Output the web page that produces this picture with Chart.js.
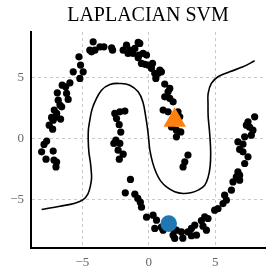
<!DOCTYPE html>
<html><head><meta charset="utf-8">
<script src="https://cdn.jsdelivr.net/npm/chart.js@4/dist/chart.umd.min.js"></script>
<style>html,body{margin:0;padding:0;background:#fff}#w{width:274px;height:274px}</style>
</head><body><div id="w"><canvas id="c"></canvas></div>
<script>
const titleText = "LAPLACIAN SVM";
const xTicks = [-5, 0, 5];
const yTicks = [-5, 0, 5];
const upperMoon = [[-8.07,-1.10],[-7.89,-0.49],[-7.69,-0.22],[-7.74,-1.70],[-7.20,-1.04],[-7.14,-1.78],[-6.94,-1.94],[-6.99,-2.34],[-7.50,1.09],[-7.24,0.76],[-7.20,1.50],[-6.94,1.78],[-6.64,1.59],[-7.32,1.73],[-7.12,2.33],[-6.94,2.06],[-6.56,2.60],[-6.69,2.74],[-6.82,3.15],[-6.89,3.75],[-6.19,3.70],[-6.07,3.21],[-6.52,4.38],[-6.26,4.24],[-5.94,4.57],[-5.69,5.48],[-4.94,5.48],[-5.19,4.93],[-5.14,6.03],[-5.26,6.71],[-4.31,7.12],[-4.19,7.94],[-4.44,7.26],[-4.06,7.26],[-3.68,7.53],[-3.38,7.53],[-2.80,7.45],[-2.73,7.26],[-1.68,7.67],[-1.93,7.26],[-1.43,7.26],[-0.80,7.89],[-1.05,7.40],[-1.56,6.99],[-1.18,6.99],[-0.73,6.85],[-0.43,6.99],[-0.17,6.85],[-0.80,6.63],[-0.55,6.17],[-0.30,6.09],[-0.05,6.03],[0.28,6.17],[0.20,5.76],[0.83,5.62],[0.45,5.35],[0.70,5.35],[0.95,5.48],[0.53,4.93],[1.20,4.47],[1.58,4.11],[1.45,3.83],[1.20,3.42],[1.58,3.29],[1.83,3.01],[1.08,2.33],[1.45,2.19],[2.20,2.19],[2.33,1.78],[1.71,0.95],[2.08,0.68],[2.41,0.54],[2.08,0.13],[-0.68,7.81],[2.95,-1.37],[2.71,-1.92],[2.58,-2.34]];
const lowerMoon = [[-2.56,2.06],[-2.18,2.19],[-1.80,2.25],[-2.43,1.64],[-2.23,1.13],[-2.11,0.52],[-2.48,-0.14],[-2.63,-0.41],[-2.18,-0.41],[-2.31,-0.96],[-1.93,-1.29],[-2.22,-1.70],[-1.38,-3.37],[-1.77,-4.47],[-1.05,-4.58],[-0.83,-4.93],[-0.64,-5.24],[-0.55,-5.65],[-0.17,-6.47],[0.32,-6.31],[0.58,-6.72],[0.45,-7.40],[0.95,-7.29],[1.08,-7.54],[1.83,-7.40],[2.08,-7.54],[2.46,-7.68],[1.83,-7.95],[1.95,-8.22],[2.56,-8.20],[2.95,-7.68],[3.21,-7.40],[3.46,-7.13],[3.21,-7.99],[3.59,-7.95],[3.96,-6.76],[4.08,-7.21],[4.34,-7.54],[4.46,-6.58],[4.96,-5.90],[5.21,-5.77],[5.59,-5.35],[5.84,-5.07],[5.71,-4.66],[6.22,-4.25],[6.34,-3.57],[6.59,-3.16],[6.84,-3.43],[6.71,-2.75],[6.84,-3.02],[7.22,-2.06],[7.47,-1.51],[6.84,-0.90],[7.09,-1.10],[6.71,-0.28],[7.09,-0.47],[7.22,0.13],[7.72,0.27],[7.84,0.68],[7.35,1.09],[7.47,1.37],[7.97,1.78],[7.59,0.93],[4.21,-6.45]];
const boundary = [[-8.07,-5.84],[-6.69,-5.57],[-5.56,-5.32],[-4.94,-5.03],[-4.59,-4.58],[-4.40,-3.92],[-4.31,-3.26],[-4.34,-2.60],[-4.40,-1.95],[-4.51,-1.13],[-4.56,-0.14],[-4.55,0.68],[-4.44,1.50],[-4.29,2.33],[-4.06,3.01],[-3.56,3.97],[-2.93,4.44],[-2.18,4.52],[-1.43,4.38],[-0.80,3.83],[-0.45,3.01],[-0.23,1.78],[-0.08,0.68],[0.00,-0.14],[0.08,-0.96],[0.30,-2.03],[0.58,-2.88],[0.90,-3.51],[1.33,-3.98],[1.95,-4.38],[2.58,-4.52],[3.16,-4.46],[3.71,-4.25],[4.21,-3.84],[4.47,-3.18],[4.62,-2.28],[4.66,-1.21],[4.62,-0.14],[4.55,0.85],[4.47,1.83],[4.46,2.82],[4.47,3.70],[4.71,4.52],[5.21,5.07],[6.09,5.48],[7.09,5.89],[7.97,6.38]];
const labeledPositive = [[1.95, 1.5]];
const labeledNegative = [[1.5, -7.0]];

const toXY = a => a.map(p => ({x: p[0], y: p[1]}));
const fmt = v => v < 0 ? '\u2212' + Math.abs(v) : String(v);
const tickFont = {family: 'Liberation Serif', size: 13};

new Chart(document.getElementById('c'), {
  type: 'scatter',
  data: {datasets: [
    {data: toXY(labeledPositive), pointStyle: 'triangle', pointRadius: 13, backgroundColor: '#ff7f0e', borderWidth: 0, order: 0},
    {data: toXY(labeledNegative), pointStyle: 'circle', pointRadius: 8.3, backgroundColor: '#1f77b4', borderWidth: 0, order: 1},
    {data: toXY(upperMoon.concat(lowerMoon)), pointRadius: 3.6, backgroundColor: '#000', borderWidth: 0, order: 2},
    {data: toXY(boundary), showLine: true, pointRadius: 0, borderColor: '#000', borderWidth: 1.6, tension: 0.4, fill: false, order: 3}
  ]},
  options: {
    responsive: true, maintainAspectRatio: false, animation: false,
    layout: {autoPadding: false, padding: {left: 0, right: 9, top: 0, bottom: 0}},
    plugins: {
      legend: {display: false}, tooltip: {enabled: false},
      title: {display: true, text: titleText, fullSize: false, color: '#000',
        font: {family: 'Liberation Serif', size: 20, weight: 'normal'}, padding: {top: 4, bottom: 4}}
    },
    scales: {
      x: {type: 'linear', min: -8.87, max: 8.75,
        afterBuildTicks: s => { s.ticks = xTicks.map(v => ({value: v})); },
        afterFit: s => { s.height = 25.7; },
        ticks: {callback: fmt, color: '#666', font: tickFont, padding: 6, maxRotation: 0},
        grid: {color: '#c8c8c8', lineWidth: 1, drawTicks: false},
        border: {display: true, color: '#000', width: 2, dash: [3, 3]}
      },
      y: {type: 'linear', min: -9.03, max: 8.75,
        afterBuildTicks: s => { s.ticks = yTicks.map(v => ({value: v})); },
        afterFit: s => { s.width = 31; },
        ticks: {callback: fmt, color: '#666', font: tickFont, padding: 7},
        grid: {color: '#c8c8c8', lineWidth: 1, drawTicks: false},
        border: {display: true, color: '#000', width: 2, dash: [3, 3]}
      }
    }
  }
});
</script></body></html>
